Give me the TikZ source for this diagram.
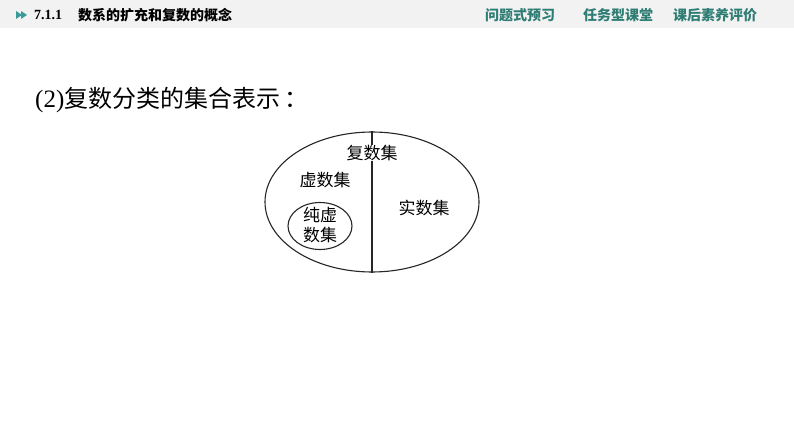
\documentclass[tikz,border=0pt]{standalone}
\usepackage{fontspec}
\usetikzlibrary{shapes.geometric}
\setmainfont{Liberation Serif}
\newfontfamily\cjk{Noto Sans CJK SC}
\definecolor{bandgray}{HTML}{F2F2F2}
\definecolor{tealtxt}{HTML}{2E7D74}
\definecolor{tealicon}{HTML}{3A9A9A}
\begin{document}
\begin{tikzpicture}[x=1pt,y=-1pt,
  navtxt/.style={inner sep=0pt,anchor=west,text=tealtxt,font=\cjk\bfseries\fontsize{14}{14}\selectfont},
  lbl/.style={inner sep=0pt,font=\cjk\fontsize{17}{20}\selectfont},
  setline/.style={line width=1.1pt,draw=black!85}]
\useasboundingbox (0,0) rectangle (794,446);
\fill[white] (0,0) rectangle (794,446);
% header band
\fill[bandgray] (0,0) rectangle (794,28);
\fill[tealicon] (16,11) -- (22,15) -- (16,19) -- cycle;
\fill[tealicon] (21,11) -- (27,15) -- (21,19) -- cycle;
\node[inner sep=0pt,anchor=west,font=\bfseries\fontsize{14}{14}\selectfont] (sec) at (34,15) {7.1.1};
\node[inner sep=0pt,anchor=west,font=\cjk\bfseries\fontsize{14}{14}\selectfont] (title) at (78,15) {数系的扩充和复数的概念};
\node[navtxt] (nav1) at (485,15) {问题式预习};
\node[navtxt] (nav2) at (583,15) {任务型课堂};
\node[navtxt] (nav3) at (673,15) {课后素养评价};
% heading
\node[inner sep=0pt,anchor=west,font=\fontsize{25}{28}\selectfont] (head) at (35,100) {(2){\cjk\fontsize{24}{28}\selectfont 复数分类的集合表示\hspace{4pt}：}};
% diagram
\node[setline,draw,ellipse,minimum width=214,minimum height=140,inner sep=0pt] (outer) at (372,202) {};
\coordinate (ltop) at (372,131);
\coordinate (lbot) at (372,273);
\node[lbl] (complex) at (372,153) {复数集};
\draw[line width=1.6pt,black!85] (ltop) -- (complex.north);
\draw[line width=1.6pt,black!85] (complex.south) -- (lbot);
\node[lbl] (imag) at (325,180) {虚数集};
\node[lbl] (real) at (424,208) {实数集};
\node[setline,draw,ellipse,minimum width=64,minimum height=47,inner sep=0pt] (inner) at (320,226) {};
\node[lbl,align=center,font=\cjk\fontsize{17}{20}\selectfont] (pure) at (320,225) {纯虚\\数集};
\end{tikzpicture}
\end{document}
